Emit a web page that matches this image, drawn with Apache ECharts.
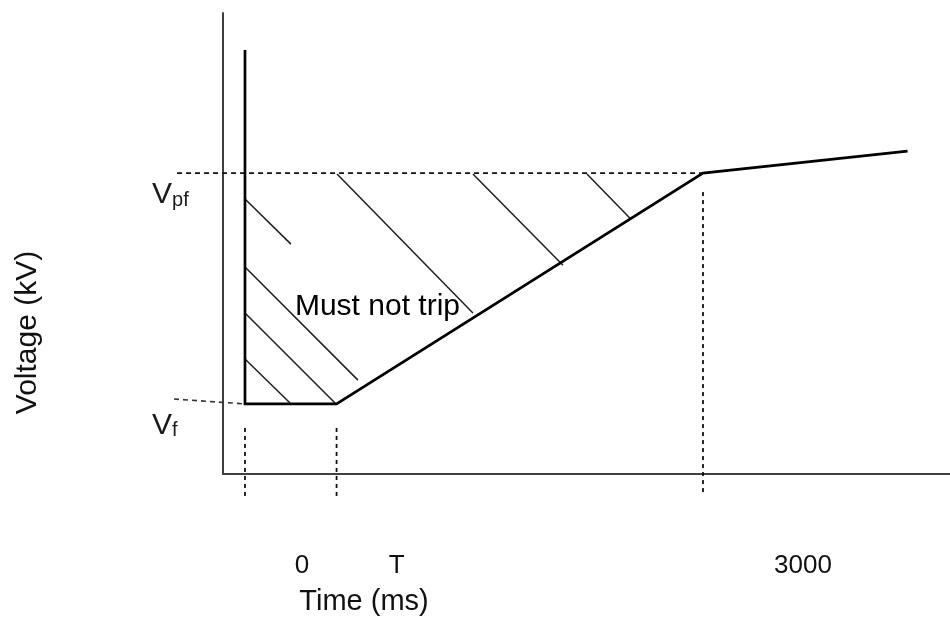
<!DOCTYPE html>
<html><head><meta charset="utf-8">
<script src="https://cdn.jsdelivr.net/npm/echarts@6/dist/echarts.min.js"></script>
<style>html,body{margin:0;padding:0;background:#fff}#c{width:950px;height:618px}</style>
</head><body><div id="c"></div>
<script>
// ---- data (schematic units: time in ms-like units, voltage in per-unit of Vpf) ----
const T = 600;
const VF = 0.233;
const VPF = 1.0;
const xTickValues = [0, T, 3000];
const xTickLabels = ['0', 'T', '3000'];
const yTickValues = [VF, VPF];
const yTickSubs = ['f', 'pf'];
const boundary = [[0, 1.409], [0, VF], [T, VF], [3000, VPF], [4340, 1.073]];
const vpfGuide = [[-445, VPF], [3000, VPF]];
const vfGuide = [[-465, 0.249], [0, VF]];
const dropLines = [
  [[0, 0.153], [0, -0.076]],
  [[T, 0.153], [T, -0.076]],
  [[3000, 0.937], [3000, -0.070]]
];
const hatch = [
  [[0, 0.914], [301, 0.764]],
  [[0, 0.688], [740, 0.312]],
  [[0, 0.535], [590, 0.236]],
  [[0, 0.382], [295, 0.236]],
  [[603, 0.997], [1493, 0.535]],
  [[1493, 0.997], [2083, 0.694]],
  [[2240, 0.997], [2522, 0.850]]
];
const regionText = 'Must not trip';
const regionPoint = [871, 0.555];

const X_MIN = -144, X_MAX = 4618, X_MIN_WIDE = -465;
const Y_MIN = 0, Y_MAX = 1.532;

const FONT = "'Liberation Sans', Arial, sans-serif";
const tickPad = [114, 120, 200];

const chart = echarts.init(document.getElementById('c'), null, {renderer: 'canvas'});

const lineBase = {type: 'line', symbol: 'none', clip: false, silent: true, animation: false, z: 3};
const series = [];
hatch.forEach(seg => series.push(Object.assign({}, lineBase, {
  data: seg, lineStyle: {color: '#1e1e1e', width: 1.5}
})));
dropLines.forEach(seg => series.push(Object.assign({}, lineBase, {
  data: seg, lineStyle: {color: '#111', width: 1.8, type: [4, 4]}
})));
series.push(Object.assign({}, lineBase, {xAxisIndex: 1, yAxisIndex: 1, data: vpfGuide,
  lineStyle: {color: '#111', width: 1.6, type: [5, 4]}}));
series.push(Object.assign({}, lineBase, {xAxisIndex: 1, yAxisIndex: 1, data: vfGuide,
  lineStyle: {color: '#333', width: 1.6, type: [5, 4]}}));
series.push(Object.assign({}, lineBase, {data: boundary, z: 4, lineStyle: {color: '#000', width: 2.7, join: 'miter'}}));
series.push({
  type: 'scatter', silent: true, animation: false, z: 6,
  symbol: 'circle', symbolSize: 1, itemStyle: {color: '#fff', opacity: 1},
  data: [regionPoint],
  label: {show: true, position: [0, 0], align: 'center', verticalAlign: 'middle',
    formatter: regionText, fontSize: 30, fontFamily: FONT, color: '#000', opacity: 1,
    textBorderWidth: 0}
});

chart.setOption({
  animation: false,
  grid: [
    {left: 223, right: 0, top: 13, bottom: 144, containLabel: false, outerBoundsMode: 'none'},
    {left: 174, right: 0, top: 13, bottom: 144, containLabel: false, outerBoundsMode: 'none', show: false}
  ],
  xAxis: [{
    type: 'value', min: X_MIN, max: X_MAX, gridIndex: 0,
    axisLine: {show: true, onZero: false, lineStyle: {color: '#404040', width: 2}},
    axisTick: {show: false}, splitLine: {show: false},
    axisLabel: {
      customValues: xTickValues, margin: 79, color: '#111', fontFamily: FONT, fontSize: 26,
      formatter: v => { const i = xTickValues.indexOf(v); return '{t' + i + '|' + xTickLabels[i] + '}'; },
      rich: {
        t0: {padding: [0, 0, 0, tickPad[0]], fontSize: 26, fontFamily: FONT, color: '#111'},
        t1: {padding: [0, 0, 0, tickPad[1]], fontSize: 26, fontFamily: FONT, color: '#111'},
        t2: {padding: [0, 0, 0, tickPad[2]], fontSize: 26, fontFamily: FONT, color: '#111'}
      }
    },
    name: 'Time (ms)', nameLocation: 'middle', nameGap: 113,
    nameTextStyle: {fontSize: 29, fontFamily: FONT, color: '#111', padding: [0, 445, 0, 0]}
  }, {
    type: 'value', min: X_MIN_WIDE, max: X_MAX, gridIndex: 1, show: false
  }],
  yAxis: [{
    type: 'value', min: Y_MIN, max: Y_MAX, gridIndex: 0,
    axisLine: {show: true, onZero: false, lineStyle: {color: '#404040', width: 2}},
    axisTick: {show: false}, splitLine: {show: false},
    axisLabel: {
      customValues: yTickValues, margin: 71, align: 'left', verticalAlign: 'top',
      padding: [7, 0, 0, 0],
      formatter: v => { const i = yTickValues.indexOf(v); return '{v|V}{s|' + yTickSubs[i] + '}'; },
      rich: {
        v: {fontSize: 30, fontFamily: FONT, color: '#1a1a1a', verticalAlign: 'bottom'},
        s: {fontSize: 20, fontFamily: FONT, color: '#1a1a1a', verticalAlign: 'bottom'}
      }
    },
    name: 'Voltage (kV)', nameLocation: 'middle', nameGap: 180,
    nameTextStyle: {fontSize: 30, fontFamily: FONT, color: '#111', padding: [0, 178, 0, 0]}
  }, {
    type: 'value', min: Y_MIN, max: Y_MAX, gridIndex: 1, show: false
  }],
  series: series
});
</script></body></html>
